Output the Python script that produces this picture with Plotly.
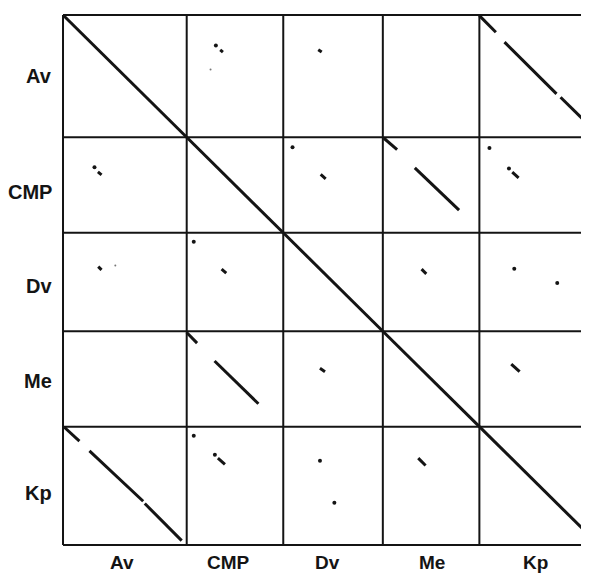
import plotly.graph_objects as go

# ---- data -------------------------------------------------------------
SEQUENCES = ["Av", "CMP", "Dv", "Me", "Kp"]
LENGTHS = [123, 96, 99, 96, 119]          # sequence lengths (plot units)

# diagonal match segments inside a block: (row seq, col seq, u0, v0, u1, v1)
# u = position along the column sequence, v = position along the row sequence
SEGMENTS = [
    ("Av", "CMP", 33.3, 35.0, 36.0, 37.3),
    ("Av", "Dv", 34.8, 35.0, 38.2, 37.3),
    ("Av", "Kp", 0.0, 0.7, 16.4, 17.3),
    ("Av", "Kp", 25.0, 27.3, 76.7, 79.3),
    ("Av", "Kp", 80.7, 82.7, 115.0, 117.0),
    ("CMP", "Av", 34.7, 34.7, 38.3, 37.7),
    ("CMP", "Dv", 37.2, 37.3, 42.2, 41.7),
    ("CMP", "Me", 0.8, 0.7, 14.2, 12.3),
    ("CMP", "Me", 31.8, 30.7, 75.8, 73.3),
    ("CMP", "Kp", 32.7, 35.0, 39.0, 40.7),
    ("Dv", "Av", 35.0, 34.0, 38.3, 37.3),
    ("Dv", "CMP", 34.7, 36.6, 39.3, 40.6),
    ("Dv", "Me", 38.5, 36.6, 43.2, 41.3),
    ("Me", "CMP", 0.0, 1.3, 10.3, 12.0),
    ("Me", "CMP", 27.7, 30.0, 71.3, 73.0),
    ("Me", "Dv", 36.5, 37.3, 41.5, 40.7),
    ("Me", "Kp", 31.7, 33.0, 40.0, 40.7),
    ("Kp", "Av", 1.3, 0.6, 16.3, 14.6),
    ("Kp", "Av", 26.3, 24.3, 79.7, 75.0),
    ("Kp", "Av", 81.3, 77.3, 118.0, 114.6),
    ("Kp", "CMP", 31.0, 31.6, 38.0, 38.0),
    ("Kp", "Me", 35.2, 31.6, 42.5, 39.0),
]

# isolated match points: (row seq, col seq, u, v)
DOTS = [
    ("Av", "CMP", 29.0, 30.7),
    ("CMP", "Av", 31.3, 30.0),
    ("CMP", "Dv", 9.2, 10.0),
    ("CMP", "Kp", 10.0, 10.7),
    ("CMP", "Kp", 29.4, 31.3),
    ("Dv", "CMP", 7.0, 9.0),
    ("Dv", "Kp", 34.7, 36.3),
    ("Dv", "Kp", 77.4, 50.6),
    ("Kp", "CMP", 7.0, 9.0),
    ("Kp", "CMP", 28.0, 28.3),
    ("Kp", "Dv", 36.5, 34.3),
    ("Kp", "Dv", 50.8, 76.6),
]
FAINT_DOTS = [
    ("Av", "CMP", 23.7, 54.7),
    ("Dv", "Av", 52.0, 33.0),
]

# ---- derived positions --------------------------------------------------
starts = {}
acc = 0
for name, ln in zip(SEQUENCES, LENGTHS):
    starts[name] = acc
    acc += ln
TOTAL = acc
bounds = [starts[n] for n in SEQUENCES] + [TOTAL]

INK = "#141414"
fig = go.Figure()

# grid
gx, gy = [], []
for b in bounds[:-1]:
    gx += [b, b, None]
    gy += [0, TOTAL, None]
for b in bounds:
    gx += [0, TOTAL, None]
    gy += [b, b, None]
fig.add_trace(go.Scatter(x=gx, y=gy, mode="lines",
                         line=dict(color=INK, width=2), hoverinfo="skip"))

# self-comparison diagonals
dx, dy = [], []
for n, ln in zip(SEQUENCES, LENGTHS):
    dx += [starts[n], starts[n] + ln, None]
    dy += [starts[n], starts[n] + ln, None]
fig.add_trace(go.Scatter(x=dx, y=dy, mode="lines",
                         line=dict(color=INK, width=3), hoverinfo="skip"))

# off-diagonal segments
sx, sy = [], []
for r, c, u0, v0, u1, v1 in SEGMENTS:
    sx += [starts[c] + u0, starts[c] + u1, None]
    sy += [starts[r] + v0, starts[r] + v1, None]
fig.add_trace(go.Scatter(x=sx, y=sy, mode="lines",
                         line=dict(color=INK, width=3), hoverinfo="skip"))

# dots
fig.add_trace(go.Scatter(
    x=[starts[c] + u for r, c, u, v in DOTS],
    y=[starts[r] + v for r, c, u, v in DOTS],
    mode="markers", marker=dict(color=INK, size=4), hoverinfo="skip"))
fig.add_trace(go.Scatter(
    x=[starts[c] + u for r, c, u, v in FAINT_DOTS],
    y=[starts[r] + v for r, c, u, v in FAINT_DOTS],
    mode="markers", marker=dict(color="#777", size=2), hoverinfo="skip"))

# labels
YNUDGE = [0, 7.5, 4.5, 2, 7.5]
XNUDGE = [-2.5, -6, -5.5, 1, -4]
PLOT_H, BOTTOM = 534, 26
font = dict(family="Liberation Sans, Arial, sans-serif", size=20, color=INK)
xfont = dict(family="Liberation Sans, Arial, sans-serif", size=19, color=INK)
for i, n in enumerate(SEQUENCES):
    mid = starts[n] + LENGTHS[i] / 2
    fig.add_annotation(text="<b>%s</b>" % n, xref="paper", x=0, xanchor="right",
                       xshift=-7, yref="y", y=mid + YNUDGE[i], yanchor="middle",
                       showarrow=False, font=font)
    fig.add_annotation(text="<b>%s</b>" % n, xref="x", x=mid + XNUDGE[i],
                       xanchor="center", yref="paper", y=-BOTTOM / PLOT_H,
                       yanchor="bottom", borderpad=0, borderwidth=0,
                       showarrow=False, font=xfont)

# the page body adds an 8px margin, so the figure is 8px smaller and shifted
fig.update_layout(
    width=581, height=565,
    margin=dict(l=53, r=0, t=5, b=BOTTOM),
    paper_bgcolor="white", plot_bgcolor="white",
    showlegend=False,
    xaxis=dict(range=[-2, 523], visible=False, fixedrange=True),
    yaxis=dict(range=[535, -2], visible=False, fixedrange=True),
)

fig.write_html("out.html")
